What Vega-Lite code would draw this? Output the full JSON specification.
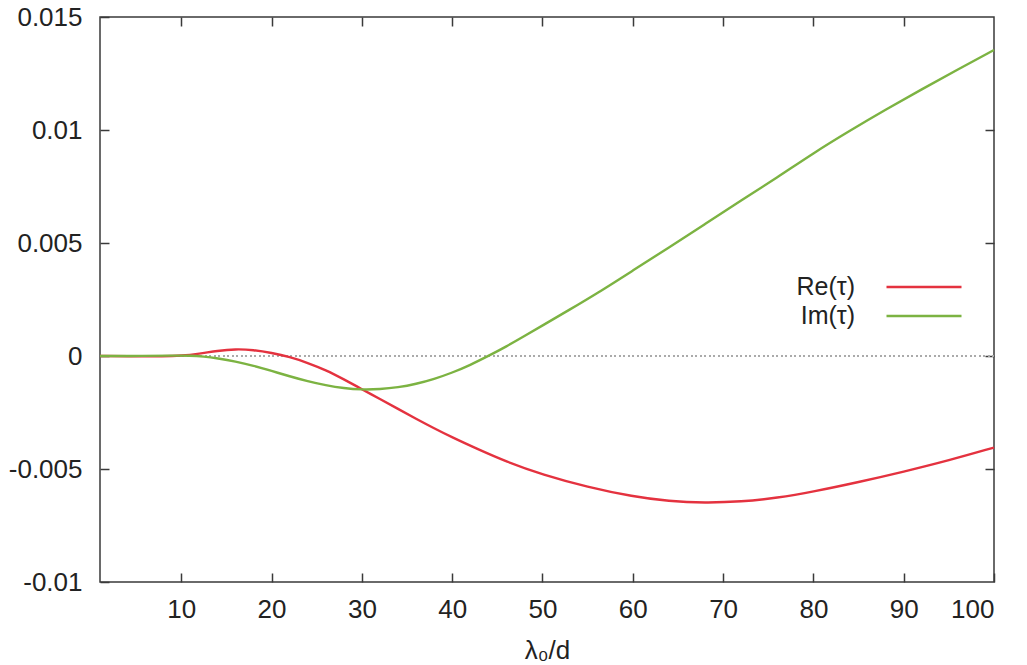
{
  "$schema": "https://vega.github.io/schema/vega-lite/v6.json",
  "width": 894,
  "height": 565,
  "autosize": "none",
  "padding": {"left": 100, "top": 17, "right": 33, "bottom": 83},
  "background": "white",
  "config": {
    "view": {"stroke": "#3a3a3a", "strokeWidth": 1.5},
    "font": "Liberation Sans",
    "axis": {
      "domain": false,
      "grid": false,
      "tickColor": "#3a3a3a",
      "tickWidth": 1.5,
      "tickSize": -9,
      "labelFont": "Liberation Sans",
      "labelFontSize": 26,
      "labelColor": "#222",
      "titleFont": "Liberation Sans",
      "titleFontSize": 26,
      "titleFontWeight": "normal",
      "titleColor": "#222"
    }
  },
  "data": {"values": [
    {"s": "Re(τ)", "x": 1, "v": 0},
    {"s": "Re(τ)", "x": 5, "v": -0.00001},
    {"s": "Re(τ)", "x": 8, "v": -0.00002},
    {"s": "Re(τ)", "x": 10, "v": 0.00001},
    {"s": "Re(τ)", "x": 12, "v": 0.0001},
    {"s": "Re(τ)", "x": 14, "v": 0.00023},
    {"s": "Re(τ)", "x": 16, "v": 0.00031},
    {"s": "Re(τ)", "x": 18, "v": 0.00027},
    {"s": "Re(τ)", "x": 20, "v": 0.00014},
    {"s": "Re(τ)", "x": 22, "v": -0.00004},
    {"s": "Re(τ)", "x": 24, "v": -0.0003},
    {"s": "Re(τ)", "x": 26, "v": -0.00062},
    {"s": "Re(τ)", "x": 28, "v": -0.00103},
    {"s": "Re(τ)", "x": 30, "v": -0.00147},
    {"s": "Re(τ)", "x": 32, "v": -0.0019},
    {"s": "Re(τ)", "x": 34, "v": -0.00234},
    {"s": "Re(τ)", "x": 36, "v": -0.00278},
    {"s": "Re(τ)", "x": 38, "v": -0.0032},
    {"s": "Re(τ)", "x": 40, "v": -0.0036},
    {"s": "Re(τ)", "x": 42.6, "v": -0.00408},
    {"s": "Re(τ)", "x": 46, "v": -0.00468},
    {"s": "Re(τ)", "x": 50, "v": -0.00525},
    {"s": "Re(τ)", "x": 55, "v": -0.0058},
    {"s": "Re(τ)", "x": 60, "v": -0.00622},
    {"s": "Re(τ)", "x": 64, "v": -0.00643},
    {"s": "Re(τ)", "x": 68, "v": -0.0065},
    {"s": "Re(τ)", "x": 72, "v": -0.00645},
    {"s": "Re(τ)", "x": 76, "v": -0.00628},
    {"s": "Re(τ)", "x": 80, "v": -0.006},
    {"s": "Re(τ)", "x": 85, "v": -0.00558},
    {"s": "Re(τ)", "x": 90, "v": -0.00512},
    {"s": "Re(τ)", "x": 95, "v": -0.00462},
    {"s": "Re(τ)", "x": 100, "v": -0.00405},
    {"s": "Im(τ)", "x": 1, "v": 0},
    {"s": "Im(τ)", "x": 6, "v": 0},
    {"s": "Im(τ)", "x": 9, "v": 0.00002},
    {"s": "Im(τ)", "x": 11, "v": 0.00002},
    {"s": "Im(τ)", "x": 12.5, "v": -0.00002},
    {"s": "Im(τ)", "x": 14, "v": -0.0001},
    {"s": "Im(τ)", "x": 16, "v": -0.00024},
    {"s": "Im(τ)", "x": 18, "v": -0.00043},
    {"s": "Im(τ)", "x": 20, "v": -0.00066},
    {"s": "Im(τ)", "x": 22, "v": -0.0009},
    {"s": "Im(τ)", "x": 24, "v": -0.00112},
    {"s": "Im(τ)", "x": 26, "v": -0.0013},
    {"s": "Im(τ)", "x": 28, "v": -0.00143},
    {"s": "Im(τ)", "x": 30, "v": -0.00149},
    {"s": "Im(τ)", "x": 32, "v": -0.00147},
    {"s": "Im(τ)", "x": 34, "v": -0.00139},
    {"s": "Im(τ)", "x": 36, "v": -0.00124},
    {"s": "Im(τ)", "x": 38, "v": -0.00102},
    {"s": "Im(τ)", "x": 40, "v": -0.00074},
    {"s": "Im(τ)", "x": 42, "v": -0.0004},
    {"s": "Im(τ)", "x": 44, "v": 0},
    {"s": "Im(τ)", "x": 46, "v": 0.00042},
    {"s": "Im(τ)", "x": 48, "v": 0.00088},
    {"s": "Im(τ)", "x": 50, "v": 0.00135},
    {"s": "Im(τ)", "x": 53, "v": 0.00205},
    {"s": "Im(τ)", "x": 56, "v": 0.00276},
    {"s": "Im(τ)", "x": 60, "v": 0.00378},
    {"s": "Im(τ)", "x": 64, "v": 0.0048},
    {"s": "Im(τ)", "x": 68, "v": 0.00584},
    {"s": "Im(τ)", "x": 72, "v": 0.00688},
    {"s": "Im(τ)", "x": 76, "v": 0.0079},
    {"s": "Im(τ)", "x": 80, "v": 0.00898},
    {"s": "Im(τ)", "x": 84, "v": 0.00996},
    {"s": "Im(τ)", "x": 88, "v": 0.0109},
    {"s": "Im(τ)", "x": 92, "v": 0.0118},
    {"s": "Im(τ)", "x": 96, "v": 0.01268},
    {"s": "Im(τ)", "x": 100, "v": 0.01354}
  ]},
  "layer": [
    {
      "mark": {"type": "rule", "strokeDash": [1.5, 3], "color": "#aaa", "strokeWidth": 1},
      "encoding": {"y": {"datum": 0, "type": "quantitative", "axis": null}}
    },
    {
      "mark": {"type": "line", "strokeWidth": 2.4, "interpolate": "basis"},
      "encoding": {
        "x": {
          "field": "x", "type": "quantitative",
          "scale": {"domain": [1, 100], "nice": false, "zero": false},
          "axis": {"orient": "bottom", "values": [10, 20, 30, 40, 50, 60, 70, 80, 90, 100], "labelPadding": 23, "title": "λ₀/d", "titlePadding": 15}
        },
        "y": {
          "field": "v", "type": "quantitative",
          "scale": {"domain": [-0.01, 0.015], "nice": false, "zero": false},
          "axis": {"orient": "left", "values": [-0.01, -0.005, 0, 0.005, 0.01, 0.015], "labelExpr": "'' + datum.value", "labelPadding": 27, "title": null}
        },
        "color": {
          "field": "s", "type": "nominal",
          "scale": {"domain": ["Re(τ)", "Im(τ)"], "range": ["#e4323f", "#7cb342"]},
          "legend": {
            "title": null,
            "orient": "none",
            "legendX": 810,
            "legendY": 256,
            "symbolType": "M-3,0H3",
            "symbolSize": 625,
            "symbolStrokeWidth": 2.4,
            "labelAlign": "right",
            "labelOffset": -83,
            "labelFont": "Liberation Sans",
            "labelFontSize": 25,
            "labelColor": "#222",
            "rowPadding": 2
          }
        }
      }
    },
    {
      "mark": {"type": "line", "opacity": 0},
      "encoding": {
        "x": {"field": "x", "type": "quantitative", "axis": {"orient": "top", "values": [10, 20, 30, 40, 50, 60, 70, 80, 90], "labels": false, "title": null}},
        "y": {"field": "v", "type": "quantitative", "axis": {"orient": "right", "values": [-0.005, 0, 0.005, 0.01], "labels": false, "title": null}},
        "detail": {"field": "s"}
      }
    }
  ],
  "resolve": {"axis": {"x": "independent", "y": "independent"}}
}
